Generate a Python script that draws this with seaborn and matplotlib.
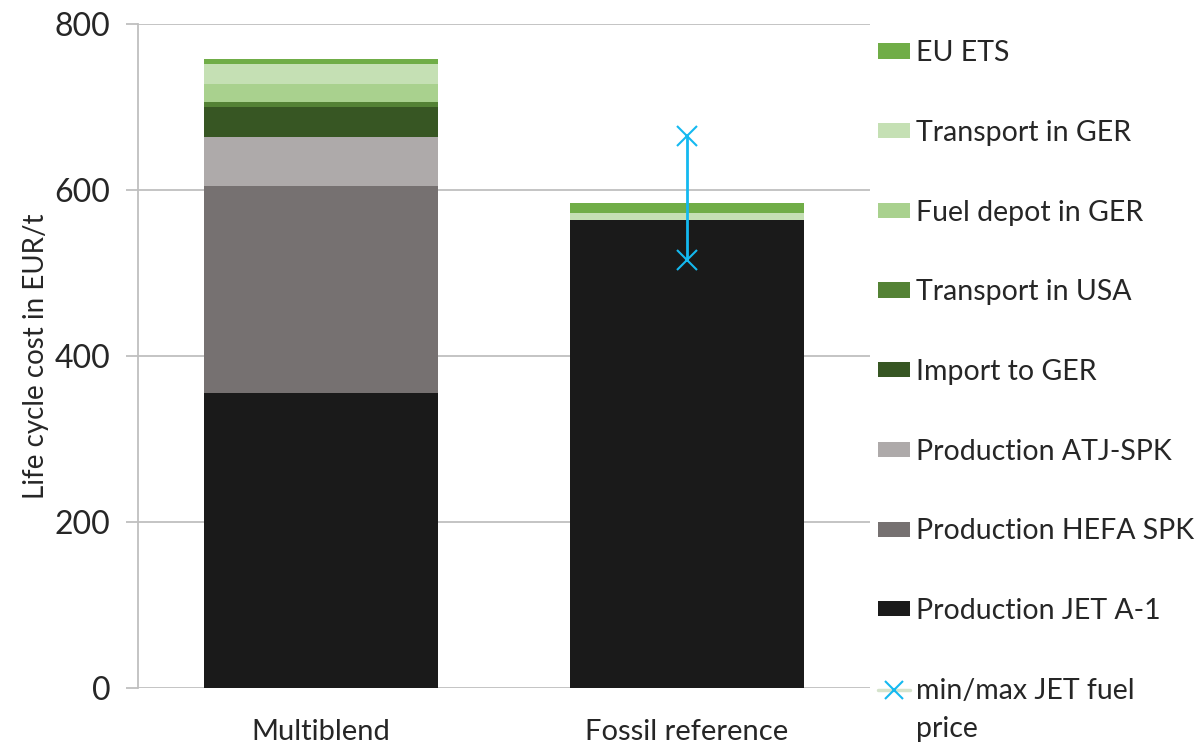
import numpy as np
import pandas as pd
import seaborn as sns
import matplotlib.pyplot as plt
from matplotlib.patches import Patch
from matplotlib.lines import Line2D

# Cost components in EUR/t (bottom to top of each stack)
pathways = ["Multiblend", "Fossil reference"]
components = [
    "Production JET A-1",
    "Production HEFA SPK",
    "Production ATJ-SPK",
    "Import to GER",
    "Transport in USA",
    "Fuel depot in GER",
    "Transport in GER",
    "EU ETS",
]
multiblend = [355, 250, 59, 36, 6, 22, 24, 6]
fossil = [564, 0, 0, 0, 0, 0, 8, 12]
colors = ["#1a1a1a", "#767171", "#aeaaaa", "#375623", "#548235",
          "#a9d18e", "#c5e0b4", "#70ad47"]

jet_price_min = 516
jet_price_max = 665

sns.set_theme(style="white")
plt.rcParams["font.family"] = ["Lato", "DejaVu Sans"]

fig = plt.figure(figsize=(12, 7.46), dpi=100)
ax = fig.add_axes([0.115, 0.0777, 0.61, 0.8903])

# Cumulative totals, drawn from the tallest layer down so each layer shows
cum = pd.DataFrame({
    "pathway": np.repeat(pathways, len(components)),
    "component": components * 2,
    "value": multiblend + fossil,
})
cum["top"] = cum.groupby("pathway", sort=False)["value"].cumsum()

for comp, col in reversed(list(zip(components, colors))):
    sub = cum[cum["component"] == comp]
    sns.barplot(data=sub, x="pathway", y="top", order=pathways, color=col,
                width=0.64, saturation=1, errorbar=None, ax=ax, zorder=3,
                linewidth=0, edgecolor="none")

# Range of fossil jet fuel price
ax.plot([1, 1], [jet_price_min, jet_price_max], color="#14b9f0", lw=2,
        marker="x", markersize=15, mew=1.5, zorder=4)

ax.set_xlim(-0.5, 1.5)
ax.set_ylim(0, 800)
ax.set_yticks([0, 200, 400, 600, 800])
ax.yaxis.grid(True, color="#bfbfbf", lw=1.3, zorder=0)
ax.set_axisbelow(True)
for s in ["top", "right", "bottom"]:
    ax.spines[s].set_visible(False)
ax.spines["left"].set_color("#bfbfbf")
ax.spines["left"].set_linewidth(1.3)
ax.tick_params(axis="y", which="both", left=True, length=9, width=1.3,
               color="#bfbfbf", labelsize=23, pad=11)
ax.tick_params(axis="x", bottom=False, labelsize=21, pad=16)
ax.set_xlabel("")
ax.set_ylabel("Life cycle cost in EUR/t", fontsize=20, labelpad=4)

handles = [Patch(facecolor=c, edgecolor="none") for c in reversed(colors)]
labels = list(reversed(components))
handles.append(Line2D([0], [0], color="#d5e3cc", lw=2.5, marker="x",
                      markeredgecolor="#14b9f0", markersize=13, mew=1.5))
labels.append("min/max JET fuel")
leg = fig.legend(handles, labels, loc="upper left", bbox_to_anchor=(0.732, 0.946),
                 frameon=False, fontsize=20.5, handlelength=1.12, handleheight=0.45,
                 handletextpad=0.2, labelspacing=1.885, borderaxespad=0,
                 borderpad=0)

# Second line of the last legend label, set under its first line
fig.canvas.draw()
last = leg.get_texts()[-1]
bb = last.get_window_extent(renderer=fig.canvas.get_renderer())
inv = fig.transFigure.inverted()
x0, y0 = inv.transform((bb.x0, bb.y0))
fig.text(x0, y0 - 12 / 746, "price", fontsize=20.5, ha="left", va="top")

fig.savefig("out.png", dpi=100)
